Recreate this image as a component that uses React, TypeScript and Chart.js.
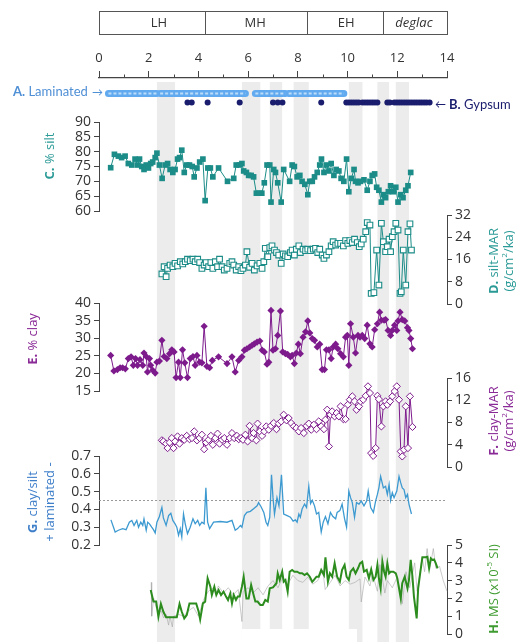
import React, { useEffect, useRef } from 'react';
import { Chart, registerables } from 'chart.js';
Chart.register(...registerables);

const FONT = '"Open Sans", "DejaVu Sans", sans-serif';
const FONT_NARROW = 'Lato, "Open Sans", sans-serif';

// ---------- period bar ----------
const periods = ['LH', 'MH', 'EH', 'deglac'];
const periodBounds = [0, 4.27, 8.37, 11.44, 14];
const periodLabelAge = [2.41, 6.28, 9.94, 12.67];

// ---------- shaded intervals (ka) ----------
const bandStart = [2.33, 5.75, 6.87, 7.83, 10.05, 11.2, 11.94];
const bandEnd = [3.06, 6.49, 7.37, 8.44, 10.6, 11.67, 12.47];

// ---------- A. laminated intervals, B. gypsum ----------
const lamStart = [0.38, 2.46, 6.29, 7.63];
const lamEnd = [2.33, 5.89, 7.5, 9.85];
const gypsumAge = [3.56, 3.73, 4.37, 5.66, 7.0, 7.19, 7.38, 8.94,
  9.95, 10.05, 10.15, 10.25, 10.35, 10.45, 10.6, 10.7, 10.8, 10.9, 11.0, 11.1, 11.2,
  11.6, 11.7, 11.88, 11.98, 12.08, 12.18, 12.28, 12.38, 12.48, 12.58, 12.68, 12.78, 12.88, 12.98, 13.08, 13.18, 13.3];

// ---------- C. % silt ----------
const siltAge = [0.47, 0.62, 0.78, 0.91, 1.05, 1.18, 1.32, 1.45, 1.55, 1.63, 1.72, 1.81, 1.90, 1.99, 2.08, 2.16, 2.26, 2.33, 2.43, 2.54, 2.66, 2.76, 2.86, 2.97, 3.06, 3.16, 3.24, 3.33, 3.43, 3.53, 3.64, 3.75, 3.83, 3.94, 4.05, 4.18, 4.27, 4.38, 4.48, 4.58, 4.81, 5.17, 5.42, 5.52, 5.65, 5.75, 5.82, 5.93, 6.02, 6.12, 6.22, 6.33, 6.44, 6.55, 6.65, 6.76, 6.87, 6.92, 7.03, 7.10, 7.19, 7.33, 7.43, 7.67, 7.77, 7.86, 7.97, 8.08, 8.17, 8.28, 8.40, 8.48, 8.58, 8.67, 8.78, 8.88, 8.95, 9.05, 9.14, 9.25, 9.34, 9.45, 9.54, 9.65, 9.74, 9.85, 9.96, 10.05, 10.15, 10.26, 10.32, 10.42, 10.52, 10.66, 10.79, 10.90, 10.99, 11.09, 11.17, 11.26, 11.36, 11.44, 11.53, 11.64, 11.73, 11.84, 11.94, 12.03, 12.14, 12.23, 12.34, 12.43, 12.54];
const silt = [74.6, 79.1, 78.5, 78, 78.5, 76, 75.5, 77.5, 75.5, 77.5, 75, 74, 75.5, 74.5, 76, 76.5, 78, 79.5, 75.5, 71, 75.5, 76, 74, 73, 74, 77.5, 78, 80.5, 73, 75.5, 75.5, 75, 71.5, 74.5, 76.5, 77.5, 63.5, 74.5, 74.5, 71.5, 74.5, 70, 71, 75.5, 75.5, 76, 73.5, 73, 72, 72, 71.5, 66, 66, 66, 69.5, 75.5, 75.5, 63, 74, 73, 69.5, 63, 74, 70, 75.5, 75, 71.5, 72, 70, 69, 65.5, 70, 70, 71.5, 73, 75.5, 77.5, 73, 75.5, 73.5, 76, 72, 74, 73.5, 71, 70, 77.5, 66.5, 71, 74, 70, 69.5, 70, 70.5, 67, 70, 72, 72.5, 68, 67, 63, 65.5, 64.5, 66.5, 68.5, 66.5, 68, 63, 65.5, 64.5, 67, 68.5, 73];

// ---------- D. silt-MAR ----------
const siltMarAge = [2.53, 2.62, 2.70, 2.76, 2.86, 2.97, 3.06, 3.16, 3.27, 3.37, 3.47, 3.56, 3.67, 3.78, 3.87, 3.97, 4.05, 4.14, 4.23, 4.31, 4.41, 4.50, 4.58, 4.68, 4.77, 4.85, 4.95, 5.04, 5.15, 5.26, 5.35, 5.42, 5.52, 5.62, 5.71, 5.79, 5.89, 5.95, 6.06, 6.16, 6.25, 6.36, 6.47, 6.56, 6.63, 6.69, 6.79, 6.87, 6.96, 7.06, 7.14, 7.23, 7.33, 7.41, 7.50, 7.59, 7.70, 7.77, 7.86, 7.94, 8.04, 8.10, 8.21, 8.31, 8.40, 8.51, 8.62, 8.71, 8.80, 8.88, 8.98, 9.05, 9.15, 9.25, 9.34, 9.42, 9.52, 9.61, 9.72, 9.83, 9.92, 10.01, 10.09, 10.19, 10.28, 10.39, 10.47, 10.55, 10.63, 10.73, 10.79, 10.90, 10.95, 11.06, 11.17, 11.26, 11.36, 11.44, 11.53, 11.60, 11.67, 11.73, 11.80, 11.87, 11.94, 12.03, 12.11, 12.16, 12.24, 12.34, 12.43, 12.51, 12.57];
const siltMar = [10.8, 13.4, 9.8, 12.8, 14, 13.4, 14.6, 13.7, 15.2, 14.4, 15.2, 16.1, 15.6, 16.1, 15.2, 16.1, 14.9, 12.8, 14, 14.9, 13.4, 14.9, 12.8, 15.2, 13.4, 16.1, 13.4, 12.2, 12.8, 14.6, 15.2, 14, 12.2, 13.4, 12, 12.8, 14, 18.8, 13.2, 14.6, 12.2, 13.7, 14.6, 12.8, 15.2, 20, 17, 20.3, 20.9, 19.4, 18.5, 17.6, 14.6, 18, 17.3, 17, 18.5, 19.4, 17.6, 19.7, 20.9, 18.5, 19.7, 19.2, 19.7, 19.2, 19.7, 20, 18.5, 19.7, 17.6, 16.4, 17.6, 18.8, 20.9, 22.4, 21.2, 21.8, 21.8, 20.9, 22.8, 21.8, 22.8, 22.1, 23.3, 22.1, 20.6, 21.6, 23.3, 26, 29.3, 28.4, 3.8, 4.1, 19.4, 6.8, 29, 22.4, 18.8, 20.6, 23.3, 18.8, 24.2, 26, 29, 26.6, 3.8, 4.4, 19.4, 6.8, 26, 28.8, 19.4];

// ---------- E. % clay ----------
const clayAge = [0.47, 0.60, 0.74, 0.85, 0.95, 1.06, 1.18, 1.29, 1.38, 1.47, 1.55, 1.65, 1.76, 1.81, 1.90, 1.95, 2.03, 2.08, 2.16, 2.26, 2.33, 2.43, 2.53, 2.62, 2.73, 2.84, 2.93, 3.02, 3.10, 3.20, 3.27, 3.36, 3.45, 3.56, 3.67, 3.78, 3.87, 3.94, 4.05, 4.14, 4.23, 4.34, 4.45, 4.56, 4.81, 5.15, 5.35, 5.48, 5.62, 5.75, 5.85, 5.95, 6.06, 6.16, 6.25, 6.36, 6.47, 6.56, 6.65, 6.76, 6.83, 6.92, 7.0, 7.10, 7.19, 7.30, 7.39, 7.50, 7.59, 7.70, 7.77, 7.86, 7.94, 8.02, 8.10, 8.21, 8.31, 8.40, 8.48, 8.58, 8.67, 8.78, 8.88, 8.98, 9.07, 9.15, 9.25, 9.34, 9.42, 9.52, 9.61, 9.72, 9.83, 9.92, 9.99, 10.05, 10.12, 10.23, 10.32, 10.42, 10.50, 10.59, 10.69, 10.79, 10.90, 10.99, 11.09, 11.20, 11.29, 11.36, 11.47, 11.53, 11.63, 11.73, 11.80, 11.89, 11.98, 12.03, 12.11, 12.20, 12.30, 12.41, 12.47, 12.54, 12.61];
const clay = [25.1, 20.7, 21.1, 21.6, 21.6, 21.3, 24.2, 24.7, 22.3, 24.2, 22.3, 23.9, 22.3, 25.8, 24.8, 20.4, 24.2, 22.3, 20.9, 20.1, 23.2, 23.5, 29.4, 24.8, 24.2, 25.6, 26.7, 26.1, 18.8, 23.2, 18.8, 26.7, 23, 18.8, 24.2, 24.8, 22.3, 25.1, 23.2, 23, 33.4, 22, 21.6, 23.7, 24.7, 22.8, 24.7, 20.4, 23.7, 24.7, 26.6, 27, 27.5, 28, 28.4, 28.9, 29.2, 26.6, 26.1, 22.6, 23.2, 37.9, 26.6, 27, 30.8, 37.7, 26.1, 25.6, 25.4, 24.7, 25.1, 22.8, 25.8, 28.3, 25.6, 30.3, 31.8, 34.9, 31.5, 29.9, 29.4, 27.5, 28.3, 21.1, 21.1, 26.7, 26.7, 24.2, 27.5, 28.3, 27, 25.6, 24.7, 30.3, 30.8, 22.3, 34.1, 30.3, 25.8, 30.8, 30.3, 30.8, 29.9, 33.7, 28.4, 27.5, 32.4, 34.1, 37.4, 35.1, 35.1, 35.3, 32.2, 30.8, 32.2, 33.7, 32.2, 34.9, 37.4, 35.3, 34.9, 33, 32.2, 29.9, 27];

// ---------- F. clay-MAR ----------
const clayMarAge = [2.53, 2.59, 2.70, 2.76, 2.84, 2.93, 3.0, 3.06, 3.16, 3.24, 3.33, 3.43, 3.53, 3.64, 3.74, 3.83, 3.94, 4.05, 4.14, 4.23, 4.31, 4.41, 4.50, 4.58, 4.68, 4.77, 4.85, 4.95, 5.04, 5.15, 5.26, 5.35, 5.44, 5.55, 5.62, 5.71, 5.79, 5.89, 5.98, 6.06, 6.16, 6.22, 6.33, 6.38, 6.47, 6.56, 6.65, 6.73, 6.83, 6.92, 7.03, 7.14, 7.23, 7.33, 7.43, 7.54, 7.63, 7.73, 7.84, 7.94, 8.04, 8.13, 8.24, 8.35, 8.44, 8.54, 8.64, 8.75, 8.84, 8.94, 9.05, 9.11, 9.18, 9.25, 9.31, 9.38, 9.48, 9.56, 9.65, 9.72, 9.83, 9.92, 10.01, 10.09, 10.19, 10.28, 10.36, 10.46, 10.52, 10.63, 10.73, 10.82, 10.90, 10.95, 11.03, 11.13, 11.20, 11.26, 11.36, 11.44, 11.53, 11.60, 11.71, 11.80, 11.89, 11.98, 12.07, 12.14, 12.20, 12.27, 12.34, 12.43, 12.51, 12.61];
const clayMar = [4.8, 4.6, 4.2, 3.4, 4.4, 5.2, 3.4, 4.6, 5.5, 4.2, 5.2, 4.9, 5.6, 5, 5.2, 6.4, 4.8, 5.2, 5.8, 3.2, 4.4, 4.9, 5.6, 4, 5.2, 6, 4.2, 4.9, 5.2, 4, 5.2, 6.1, 5.2, 5.6, 5, 5.2, 4.9, 5.8, 4.6, 7.4, 5.2, 6.1, 4.8, 7.8, 6.4, 5.6, 6.4, 7.3, 6.7, 7.4, 7.9, 6.8, 7.8, 8.2, 9.4, 8.4, 8.8, 7.9, 7.3, 7, 6.4, 7, 6.1, 7.4, 7.8, 6.7, 7.6, 6.8, 8.2, 7.3, 6.8, 8.5, 10.3, 3.7, 9.4, 10, 9.1, 9.7, 9.1, 10.9, 8.6, 8.6, 11.2, 12.1, 12.7, 11.8, 10.3, 10.9, 11.8, 12.1, 12.8, 14.5, 13.3, 2.5, 2, 3.4, 12.8, 12.2, 7.3, 10.9, 11.8, 11.2, 11.8, 12.7, 13.6, 14.5, 12.1, 2.8, 1.9, 3.1, 10.9, 3.4, 12.7, 7.2];

// ---------- G. clay/silt + laminated - ----------
const ratioAge = [0.48, 0.65, 0.78, 0.95, 1.09, 1.22, 1.32, 1.41, 1.52, 1.59, 1.68, 1.76, 1.81, 1.90, 1.96, 2.03, 2.12, 2.19, 2.26, 2.33, 2.43, 2.53, 2.59, 2.70, 2.80, 2.89, 2.97, 3.06, 3.13, 3.20, 3.27, 3.33, 3.40, 3.47, 3.56, 3.67, 3.78, 3.87, 3.97, 4.05, 4.14, 4.23, 4.30, 4.37, 4.45, 4.61, 4.88, 5.15, 5.35, 5.48, 5.58, 5.69, 5.75, 5.85, 5.95, 6.09, 6.22, 6.36, 6.42, 6.52, 6.63, 6.72, 6.79, 6.87, 6.94, 7.0, 7.06, 7.16, 7.24, 7.34, 7.43, 7.57, 7.70, 7.81, 7.90, 7.97, 8.04, 8.10, 8.17, 8.27, 8.35, 8.44, 8.51, 8.58, 8.67, 8.75, 8.84, 8.94, 9.02, 9.11, 9.21, 9.31, 9.41, 9.52, 9.58, 9.69, 9.78, 9.88, 9.96, 10.05, 10.12, 10.19, 10.28, 10.36, 10.46, 10.55, 10.66, 10.77, 10.83, 10.93, 11.04, 11.13, 11.20, 11.26, 11.33, 11.44, 11.53, 11.60, 11.67, 11.73, 11.80, 11.87, 11.98, 12.07, 12.14, 12.20, 12.27, 12.34, 12.41, 12.47, 12.57];
const ratio = [0.341, 0.273, 0.283, 0.292, 0.286, 0.328, 0.338, 0.31, 0.338, 0.30, 0.328, 0.31, 0.347, 0.283, 0.328, 0.319, 0.30, 0.286, 0.268, 0.328, 0.36, 0.411, 0.352, 0.31, 0.365, 0.378, 0.338, 0.319, 0.30, 0.255, 0.292, 0.246, 0.374, 0.319, 0.264, 0.30, 0.347, 0.319, 0.338, 0.31, 0.328, 0.319, 0.521, 0.328, 0.292, 0.328, 0.332, 0.328, 0.338, 0.283, 0.292, 0.31, 0.30, 0.365, 0.383, 0.389, 0.404, 0.42, 0.438, 0.415, 0.383, 0.328, 0.31, 0.356, 0.594, 0.466, 0.374, 0.466, 0.42, 0.594, 0.374, 0.365, 0.356, 0.334, 0.341, 0.328, 0.374, 0.356, 0.402, 0.43, 0.411, 0.530, 0.433, 0.451, 0.42, 0.374, 0.383, 0.273, 0.328, 0.36, 0.319, 0.383, 0.36, 0.347, 0.383, 0.393, 0.43, 0.347, 0.30, 0.503, 0.466, 0.438, 0.356, 0.438, 0.43, 0.448, 0.42, 0.448, 0.503, 0.411, 0.383, 0.448, 0.484, 0.521, 0.585, 0.521, 0.530, 0.484, 0.539, 0.451, 0.494, 0.466, 0.503, 0.585, 0.549, 0.521, 0.512, 0.466, 0.484, 0.43, 0.374];
const ratioThreshold = 0.45;

// ---------- H. MS ----------
const msAge = [2.08, 2.19, 2.30, 2.39, 2.49, 2.59, 2.70, 2.84, 3.0, 3.13, 3.24, 3.33, 3.43, 3.53, 3.64, 3.78, 3.91, 4.01, 4.07, 4.18, 4.27, 4.37, 4.48, 4.54, 4.64, 4.72, 4.81, 4.91, 5.01, 5.11, 5.19, 5.28, 5.35, 5.42, 5.51, 5.58, 5.66, 5.75, 5.82, 5.93, 6.02, 6.12, 6.22, 6.29, 6.38, 6.49, 6.59, 6.69, 6.79, 6.87, 7.0, 7.14, 7.19, 7.27, 7.37, 7.43, 7.50, 7.59, 7.67, 7.77, 7.86, 7.97, 8.08, 8.17, 8.27, 8.37, 8.48, 8.58, 8.64, 8.75, 8.84, 8.94, 9.05, 9.11, 9.21, 9.29, 9.38, 9.48, 9.58, 9.69, 9.78, 9.88, 9.96, 10.05, 10.12, 10.23, 10.32, 10.42, 10.50, 10.59, 10.66, 10.77, 10.86, 10.95, 11.04, 11.13, 11.20, 11.26, 11.33, 11.40, 11.47, 11.53, 11.60, 11.67, 11.73, 11.84, 11.94, 12.0, 12.07, 12.14, 12.20, 12.30, 12.41, 12.47, 12.54, 12.61, 12.67, 12.78, 12.84, 12.92, 13.01, 13.08, 13.15, 13.21, 13.28, 13.35, 13.41, 13.48, 13.55, 13.62];
const ms = [2.47, 1.82, 1.82, 0.97, 1.69, 1.25, 0.94, 0.94, 0.94, 0.94, 1.69, 1.25, 0.88, 1.07, 1.72, 1.72, 1.72, 1.25, 0.82, 1.72, 1.82, 3.13, 2.66, 2.19, 2.66, 2.19, 2.47, 2.19, 2.38, 2.10, 1.91, 2.28, 1.72, 2.19, 1.91, 2.10, 2.10, 2.66, 3.22, 2.0, 2.0, 2.75, 2.19, 1.82, 1.82, 1.63, 1.63, 1.91, 1.82, 2.57, 2.62, 2.85, 3.41, 3.03, 3.50, 2.94, 3.03, 2.38, 3.50, 3.60, 3.50, 3.50, 3.41, 3.41, 3.31, 3.41, 3.22, 2.94, 3.03, 3.22, 3.22, 3.60, 3.31, 4.31, 2.94, 3.41, 3.22, 3.97, 3.22, 2.94, 3.60, 3.88, 3.22, 3.03, 3.50, 3.69, 3.41, 3.69, 3.97, 4.06, 3.50, 3.60, 3.13, 3.63, 3.03, 3.22, 3.88, 3.13, 2.57, 4.06, 3.50, 3.22, 3.97, 3.41, 3.50, 3.50, 3.41, 3.13, 2.57, 2.0, 2.85, 3.22, 2.57, 3.03, 4.16, 3.22, 2.10, 0.88, 2.57, 3.41, 4.31, 4.31, 4.31, 4.34, 3.69, 4.25, 4.16, 4.19, 3.97, 3.69];
// high-resolution MS (grey)
const msRawAge = [2.10, 2.12, 2.2, 2.3, 2.4, 2.5, 2.6, 2.7, 2.8, 2.85, 2.95, 3.0, 3.2, 3.4, 3.6, 3.8, 4.0, 4.2, 4.4, 4.6, 4.7, 4.8, 5.0, 5.2, 5.4, 5.6, 5.75, 5.8, 6.0, 6.2, 6.4, 6.6, 6.8, 7.0, 7.2, 7.4, 7.6, 7.8, 8.0, 8.2, 8.4, 8.6, 8.8, 9.0, 9.1, 9.3, 9.5, 9.7, 9.9, 10.1, 10.3, 10.5, 10.55, 10.7, 10.9, 11.0, 11.2, 11.3, 11.5, 11.6, 11.8, 12.0, 12.2, 12.35, 12.5, 12.7, 12.8, 13.0, 13.1, 13.2, 13.3, 13.45, 13.55, 13.7, 13.85, 14.0];
const msRaw = [2.9, 1.0, 2.0, 1.5, 1.2, 1.3, 0.9, 1.1, 0.5, 1.0, 0.4, 1.0, 1.1, 1.0, 1.3, 1.5, 1.0, 1.9, 2.4, 2.6, 2.2, 2.7, 2.3, 2.6, 2.2, 2.5, 0.7, 2.4, 2.6, 2.3, 2.6, 2.2, 2.7, 3.0, 2.6, 3.2, 2.8, 3.3, 3.0, 2.9, 3.2, 2.8, 3.0, 3.6, 2.5, 2.9, 3.3, 2.7, 3.0, 2.8, 2.9, 3.1, 1.8, 3.2, 2.7, 3.4, 2.4, 3.9, 2.3, 3.0, 2.6, 3.2, 1.7, 3.5, 2.6, 4.0, 2.4, 4.3, 3.5, 4.8, 3.6, 4.8, 3.7, 3.8, 3.0, 2.4];

// ---------- colours ----------
const TEAL = '#1b8c87';
const TEAL_TXT = '#2a9a96';
const PURPLE = '#7d1a8c';
const PURPLE_TXT = '#8a2a97';
const BLUE = '#3d9ad1';
const BLUE_TXT = '#3f7fca';
const GREEN = '#2c8c1e';
const GREEN_TXT = '#3e9b2f';
const LAM = '#62aaf0';
const LAM_TXT = '#4f8fd6';
const GYP = '#1a1d6d';
const AXIS = '#444';
const TICK_TXT = '#333';

const xy = (xs: number[], ys: number[]) => xs.map((x, i) => ({ x, y: ys[i] }));

type Part = { t: string; b?: boolean; sup?: boolean; i?: boolean };
function fontOf(p: Part, size: number, family: string) {
  return `${p.i ? 'italic ' : ''}${p.b ? 'bold ' : ''}${p.sup ? Math.round(size * 0.65) : size}px ${family}`;
}
function drawRich(ctx: CanvasRenderingContext2D, parts: Part[], x: number, y: number, color: string, size: number, align: 'left' | 'center', rot = 0, family = FONT) {
  ctx.save();
  ctx.translate(x, y);
  if (rot) ctx.rotate(rot);
  ctx.fillStyle = color;
  ctx.textBaseline = 'middle';
  ctx.textAlign = 'left';
  let w = 0;
  parts.forEach((p) => { ctx.font = fontOf(p, size, family); w += ctx.measureText(p.t).width; });
  let cx = align === 'center' ? -w / 2 : 0;
  parts.forEach((p) => {
    ctx.font = fontOf(p, size, family);
    ctx.fillText(p.t, cx, p.sup ? -size * 0.35 : 0);
    cx += ctx.measureText(p.t).width;
  });
  ctx.restore();
}

const bgPlugin = {
  id: 'bgDecor',
  beforeDraw(chart: any) {
    const { ctx, scales } = chart;
    const x = scales.x;
    ctx.save();
    ctx.fillStyle = '#ececec';
    bandStart.forEach((s, i) => {
      const x1 = x.getPixelForValue(s);
      const x2 = x.getPixelForValue(bandEnd[i]);
      ctx.fillRect(x1, 82, x2 - x1, chart.height - 82);
    });
    // blank patch at the very bottom of the figure
    ctx.fillStyle = '#ffffff';
    ctx.fillRect(242, 629, 115, 14);
    ctx.restore();
  },
  afterDraw(chart: any) {
    const { ctx, scales, chartArea } = chart;
    const x = scales.x;
    ctx.save();
    // minor ticks on the age axis
    ctx.strokeStyle = AXIS;
    ctx.lineWidth = 1;
    for (let v = 1; v < 14; v += 2) {
      const px = Math.round(x.getPixelForValue(v)) + 0.5;
      ctx.beginPath();
      ctx.moveTo(px, chartArea.top);
      ctx.lineTo(px, chartArea.top - 3.5);
      ctx.stroke();
    }
    // period bar
    const bTop = 11, bBot = 34;
    ctx.strokeStyle = '#555';
    ctx.lineWidth = 1;
    const xl = x.getPixelForValue(periodBounds[0]);
    const xr = x.getPixelForValue(periodBounds[periodBounds.length - 1]);
    ctx.strokeRect(Math.round(xl) + 0.5, bTop + 0.5, Math.round(xr - xl), bBot - bTop);
    periodBounds.slice(1, -1).forEach((b) => {
      const px = Math.round(x.getPixelForValue(b)) + 0.5;
      ctx.beginPath();
      ctx.moveTo(px, bTop);
      ctx.lineTo(px, bBot);
      ctx.stroke();
    });
    periods.forEach((p, i) => {
      drawRich(ctx, [{ t: p, i: p === 'deglac' }], x.getPixelForValue(periodLabelAge[i]), (bTop + bBot) / 2 + 1, '#333', 13, 'center');
    });
    // row labels
    drawRich(ctx, [{ t: 'A.', b: true }, { t: ' Laminated' }], 13, 92, LAM_TXT, 13, 'left', 0, FONT_NARROW);
    drawRich(ctx, [{ t: '→' }], 92, 92, LAM_TXT, 11, 'left', 0, FONT_NARROW);
    drawRich(ctx, [{ t: '←' }], 435, 104.5, GYP, 11, 'left', 0, FONT_NARROW);
    drawRich(ctx, [{ t: 'B.', b: true }, { t: ' Gypsum' }], 449, 104.5, GYP, 13, 'left', 0, FONT_NARROW);
    // left titles
    const R = -Math.PI / 2;
    drawRich(ctx, [{ t: 'C.', b: true }, { t: ' % silt' }], 50, 156, TEAL_TXT, 13, 'center', R);
    drawRich(ctx, [{ t: 'E.', b: true }, { t: ' % clay' }], 33, 339, PURPLE_TXT, 13, 'center', R);
    drawRich(ctx, [{ t: 'G.', b: true }, { t: ' clay/silt' }], 33, 502, BLUE_TXT, 13, 'center', R);
    drawRich(ctx, [{ t: '+ laminated -' }], 50, 502, BLUE_TXT, 13, 'center', R);
    // right titles
    drawRich(ctx, [{ t: 'D.', b: true }, { t: ' silt-MAR' }], 494, 261, TEAL_TXT, 13, 'center', R);
    drawRich(ctx, [{ t: '(g/cm' }, { t: '2', sup: true }, { t: '/ka)' }], 509, 261, TEAL_TXT, 13, 'center', R);
    drawRich(ctx, [{ t: 'F.', b: true }, { t: ' clay-MAR' }], 494, 421, PURPLE_TXT, 13, 'center', R);
    drawRich(ctx, [{ t: '(g/cm' }, { t: '2', sup: true }, { t: '/ka)' }], 509, 421, PURPLE_TXT, 13, 'center', R);
    drawRich(ctx, [{ t: 'H.', b: true }, { t: ' MS (x10' }, { t: '-5', sup: true }, { t: ' SI)' }], 494, 589, GREEN_TXT, 13, 'center', R);
    ctx.restore();
  },
};

function bgConfig() {
  return {
    type: 'scatter',
    data: { datasets: [] },
    options: {
      responsive: false,
      animation: false,
      events: [],
      layout: { padding: { left: 99, right: 73, top: 48, bottom: 0 } },
      plugins: { legend: { display: false }, tooltip: { enabled: false } },
      scales: {
        x: {
          type: 'linear', position: 'top', min: 0, max: 14,
          afterFit: (s: any) => { s.height = 30; },
          ticks: { stepSize: 2, color: TICK_TXT, font: { family: FONT, size: 13 }, padding: 5, maxRotation: 0, autoSkip: false },
          grid: { drawOnChartArea: false, drawTicks: true, tickLength: 7, color: AXIS },
          border: { display: true, color: AXIS, width: 1.2 },
        },
        y: { display: false, min: 0, max: 1 },
      },
    },
    plugins: [bgPlugin],
  };
}

function rowsConfig() {
  const lamData: any[] = [];
  lamStart.forEach((s, i) => {
    lamData.push({ x: s, y: 'Laminated' }, { x: lamEnd[i], y: 'Laminated' }, { x: lamEnd[i], y: null });
  });
  return {
    type: 'scatter',
    data: {
      datasets: [
        { data: lamData, showLine: true, spanGaps: false, borderColor: 'rgba(205,230,252,0.85)', borderWidth: 2, borderDash: [3, 2], pointRadius: 0, order: 0, clip: false },
        { data: lamData, showLine: true, spanGaps: false, borderColor: LAM, borderWidth: 7, borderCapStyle: 'round', pointRadius: 0, order: 1, clip: false },
        { data: gypsumAge.map((a) => ({ x: a, y: 'Gypsum' })), showLine: false, pointRadius: 3, backgroundColor: GYP, borderColor: GYP, borderWidth: 0, order: 2, clip: false },
      ],
    },
    options: {
      responsive: false,
      animation: false,
      events: [],
      layout: { padding: { left: 99, right: 73, top: 0, bottom: 0 } },
      plugins: { legend: { display: false }, tooltip: { enabled: false } },
      scales: {
        x: { type: 'linear', min: 0, max: 14, display: false },
        y: { type: 'category', labels: ['Laminated', 'Gypsum'], offset: true, display: false },
      },
    },
  };
}

function panelConfig(side: 'left' | 'right', min: number, max: number, step: number, datasets: any[], digits = 0) {
  const left = side === 'left';
  return {
    type: 'scatter',
    data: { datasets },
    options: {
      responsive: false,
      animation: false,
      events: [],
      layout: { padding: { left: left ? 59 : 99, right: left ? 73 : 33, top: 10, bottom: 10 } },
      plugins: { legend: { display: false }, tooltip: { enabled: false } },
      scales: {
        x: { type: 'linear', min: 0, max: 14, display: false },
        y: {
          type: 'linear', position: side, min, max,
          afterFit: (s: any) => { s.width = 40; },
          ticks: {
            stepSize: step, autoSkip: false, color: TICK_TXT, padding: 3,
            font: { family: FONT, size: 14, lineHeight: 1 },
            callback: (v: any) => Number(v).toFixed(digits),
          },
          grid: { drawOnChartArea: false, drawTicks: true, tickLength: 5, color: AXIS },
          border: { display: true, color: AXIS, width: 1 },
        },
      },
    },
  };
}

const lineDs = (data: any[], color: string, extra: any = {}) => ({
  data, showLine: true, borderColor: color, borderWidth: 1, clip: false, ...extra,
});

const panels = [
  {
    top: 112, height: 109,
    cfg: () => panelConfig('left', 60, 90, 5, [
      lineDs(xy(siltAge, silt), TEAL, { pointStyle: 'rect', pointRadius: 4, backgroundColor: TEAL, pointBorderColor: TEAL, pointBorderWidth: 0 }),
    ]),
  },
  {
    top: 205, height: 109,
    cfg: () => panelConfig('right', 0, 32, 8, [
      lineDs(xy(siltMarAge, siltMar), TEAL, { pointStyle: 'rect', pointRadius: 4, pointBackgroundColor: '#ffffff', pointBorderColor: TEAL, pointBorderWidth: 1.1 }),
    ]),
  },
  {
    top: 293, height: 108,
    cfg: () => panelConfig('left', 15, 40, 5, [
      lineDs(xy(clayAge, clay), PURPLE, { pointStyle: 'rectRot', pointRadius: 3.6, pointBackgroundColor: PURPLE, pointBorderColor: PURPLE, pointBorderWidth: 0 }),
    ]),
  },
  {
    top: 368, height: 109,
    cfg: () => panelConfig('right', 0, 16, 4, [
      lineDs(xy(clayMarAge, clayMar), PURPLE, { pointStyle: 'rectRot', pointRadius: 3.6, pointBackgroundColor: '#ffffff', pointBorderColor: PURPLE, pointBorderWidth: 1 }),
    ]),
  },
  {
    top: 446, height: 109,
    cfg: () => panelConfig('left', 0.2, 0.7, 0.1, [
      lineDs(xy(ratioAge, ratio), BLUE, { pointRadius: 0, borderWidth: 1.3, order: 0 }),
      lineDs([{ x: 0, y: ratioThreshold }, { x: 14, y: ratioThreshold }], '#9a9a9a', { pointRadius: 0, borderDash: [2, 2], order: 1 }),
    ], 1),
  },
  {
    top: 535, height: 109,
    cfg: () => panelConfig('right', 0, 5, 1, [
      lineDs(xy(msAge, ms), GREEN, { pointRadius: 0, borderWidth: 2, order: 0 }),
      lineDs(xy(msRawAge, msRaw), 'rgba(160,160,160,0.55)', { pointRadius: 0, borderWidth: 1, order: 1 }),
    ]),
  },
];

function ChartCanvas({ top, height, cfg }: { top: number; height: number; cfg: () => any }) {
  const ref = useRef<HTMLCanvasElement | null>(null);
  useEffect(() => {
    if (!ref.current) return;
    const chart = new Chart(ref.current, cfg());
    return () => chart.destroy();
  }, []);
  return (
    <canvas
      ref={ref}
      width={520}
      height={height}
      style={{ position: 'absolute', left: 0, top, width: 520, height, display: 'block' }}
    />
  );
}

export default function App() {
  return (
    <div style={{ position: 'fixed', left: 0, top: 0, width: 520, height: 642, background: '#ffffff', overflow: 'hidden' }}>
      <ChartCanvas top={0} height={642} cfg={bgConfig} />
      <ChartCanvas top={85} height={26} cfg={rowsConfig} />
      {panels.map((p, i) => (
        <ChartCanvas key={i} top={p.top} height={p.height} cfg={p.cfg} />
      ))}
    </div>
  );
}
